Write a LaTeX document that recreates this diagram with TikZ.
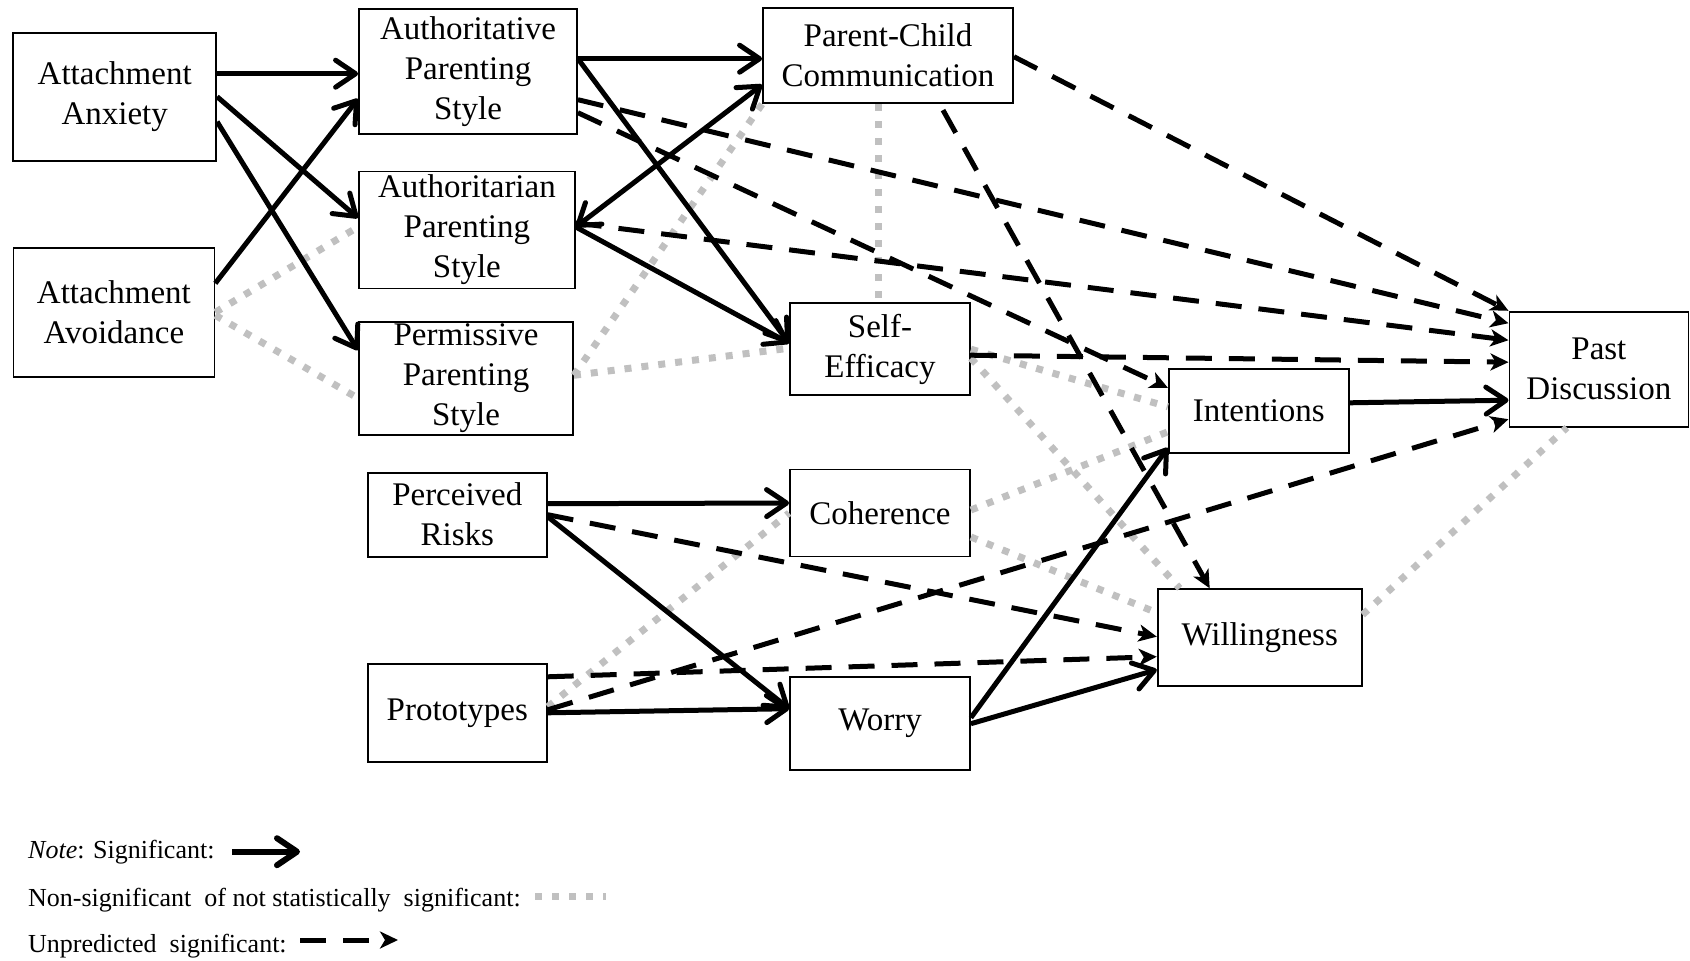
\documentclass[tikz,border=0pt]{standalone}
\usepackage{fontspec}
\setmainfont{Liberation Serif}
\usetikzlibrary{arrows.meta}
\definecolor{nsgray}{RGB}{192,192,192}

\begin{document}
\begin{tikzpicture}[x=1pt,y=-1pt,
    >={Straight Barb[length=20pt,width=27pt,round]},
    box/.style={draw,line width=1.8pt,align=center,inner sep=0pt,
      font=\fontsize{33}{40}\selectfont},
    sig/.style={line width=5pt,->},
    unpred/.style={line width=5pt,dash pattern=on 26pt off 17pt,
      -{Stealth[length=18pt,width=17pt,inset=5pt]}},
    nonsig/.style={line width=7pt,nsgray,dash pattern=on 7pt off 10pt},
    legtext/.style={anchor=base west,inner sep=0pt,
      font=\fontsize{26}{30}\selectfont}]

\useasboundingbox (0,0) rectangle (1690,961);

   % attachment and parenting
   \node[box,minimum width=203pt,minimum height=128pt] at (114.7,96.7) (anx) {Attachment\\Anxiety};
   \node[box,minimum width=201pt,minimum height=129pt] at (113.9,312.3) (avoid) {Attachment\\Avoidance};
   \node[box,minimum width=218pt,minimum height=125pt] at (468,71.7) (auth) {Authoritative\\Parenting\\Style};
   \node[box,minimum width=216pt,minimum height=117pt] at (466.9,230) (authtn) {Authoritarian\\Parenting\\Style};
   \node[box,minimum width=214pt,minimum height=113pt] at (466,378.3) (perm) {Permissive\\Parenting\\Style};
   \node[box,minimum width=179pt,minimum height=84pt] at (457.3,514.7) (risks) {Perceived\\Risks};
   \node[box,minimum width=179pt,minimum height=98pt] at (457.3,712.8) (proto) {Prototypes};

   % mediators
   \node[box,minimum width=250pt,minimum height=95pt] at (888,55.7) (pcc) {Parent-Child\\Communication};
   \node[box,minimum width=180pt,minimum height=92pt] at (880,349.2) (se) {Self-\\Efficacy};
   \node[box,minimum width=180pt,minimum height=87pt] at (880,513) (coh) {Coherence};
   \node[box,minimum width=180pt,minimum height=93pt] at (880,723.7) (worry) {Worry};
   \node[box,minimum width=180pt,minimum height=84pt] at (1258.8,410.8) (int) {Intentions};
   \node[box,minimum width=204pt,minimum height=97pt] at (1259.7,637.7) (will) {Willingness};
   \node[box,minimum width=179pt,minimum height=115pt] at (1598.9,369.2) (pd) {Past\\Discussion};

   % not significant
   \draw[nonsig] (avoid.east) -- ([yshift=3pt]authtn.west);
   \draw[nonsig] ([yshift=-3pt]avoid.east) -- ([yshift=-20pt]perm.west);
   \draw[nonsig] ([yshift=3pt]perm.east) -- (pcc.south west);
   \draw[nonsig] ([yshift=3pt]perm.east) -- ([yshift=1pt]se.west);
   \draw[nonsig] ([xshift=-10pt]pcc.south) -- ([xshift=-2pt]se.north);
   \draw[nonsig] (se.east) -- ([yshift=4pt]int.west);
   \draw[nonsig] ([yshift=-9pt]se.east) -- ([xshift=-80pt]will.north);
   \draw[nonsig] ([yshift=3pt]coh.east) -- ([yshift=-21pt]int.west);
   \draw[nonsig] ([yshift=-24pt]coh.east) -- ([yshift=25pt]will.west);
   \draw[nonsig] ([yshift=23pt]will.east) -- ([xshift=-32pt]pd.south);
   \draw[nonsig] ([yshift=6pt]proto.east) -- (coh.west);

   % unpredicted
   \draw[unpred] ([yshift=-1pt]pcc.east) -- (pd.north west);
   \draw[unpred] ([xshift=55pt,yshift=-6pt]pcc.south) -- ([xshift=-50pt]will.north);
   \draw[unpred] ([yshift=-41pt]auth.east) -- ([yshift=23pt]int.west);
   \draw[unpred] ([yshift=-28pt]auth.east) -- ([yshift=46pt]pd.west);
   \draw[unpred] ([yshift=7pt]authtn.east) -- ([yshift=29pt]pd.west);
   \draw[unpred] ([yshift=-6pt]se.east) -- ([yshift=7pt]pd.west);
   \draw[unpred] (risks.east) -- ([yshift=1pt]will.west);
   \draw[unpred] ([yshift=36pt]proto.east) -- ([yshift=-19pt]will.west);
   \draw[unpred] ([yshift=3pt]proto.east) -- ([yshift=-50pt]pd.west);

   % significant
   \draw[sig] ([yshift=23pt]anx.east) -- ([yshift=-2pt]auth.west);
   \draw[sig] (anx.east) -- ([yshift=12pt]authtn.west);
   \draw[sig] ([yshift=-25pt]anx.east) -- ([yshift=28pt]perm.west);
   \draw[sig] ([yshift=29pt]avoid.east) -- ([yshift=-27pt]auth.west);
   \draw[sig] ([yshift=13pt]auth.east) -- ([yshift=-3pt]pcc.west);
   \draw[sig] ([yshift=13pt]auth.east) -- ([yshift=6pt]se.west);
   \draw[sig,<->] ([yshift=3pt]authtn.east) -- ([yshift=-29pt]pcc.west);
   \draw[sig] ([yshift=3pt]authtn.east) -- ([yshift=6pt]se.west);
   \draw[sig] ([yshift=11pt]risks.east) -- ([yshift=10pt]coh.west);
   \draw[sig] ([yshift=-2pt]risks.east) -- ([yshift=15pt]worry.west);
   \draw[sig] (proto.east) -- ([yshift=15pt]worry.west);
   \draw[sig] ([yshift=6pt]worry.east) -- ([yshift=-37pt]int.west);
   \draw[sig] (worry.east) -- ([yshift=-32pt]will.west);
   \draw[sig] ([yshift=8pt]int.east) -- ([yshift=-31pt]pd.west);

   % legend
   \node[legtext] at (28,858) (signote) {\textit{Note}: Significant:};
   \node[legtext] at (28,906) (nonsignote) {Non-significant\ \ of not statistically\ \ significant:};
   \node[legtext] at (28,952.7) (unprednote) {Unpredicted\ \ significant:};
   \coordinate (sigA) at (232,851.7);
   \coordinate (sigB) at (300,851.7);
   \coordinate (nonsigA) at (535,896);
   \coordinate (nonsigB) at (606,896);
   \coordinate (unpredA) at (300,940);
   \coordinate (unpredB) at (398,940);
   \draw[sig,line width=6pt] (sigA) -- (sigB);
   \draw[nonsig] (nonsigA) -- (nonsigB);
   \draw[unpred] (unpredA) -- (unpredB);

\end{tikzpicture}
\end{document}
